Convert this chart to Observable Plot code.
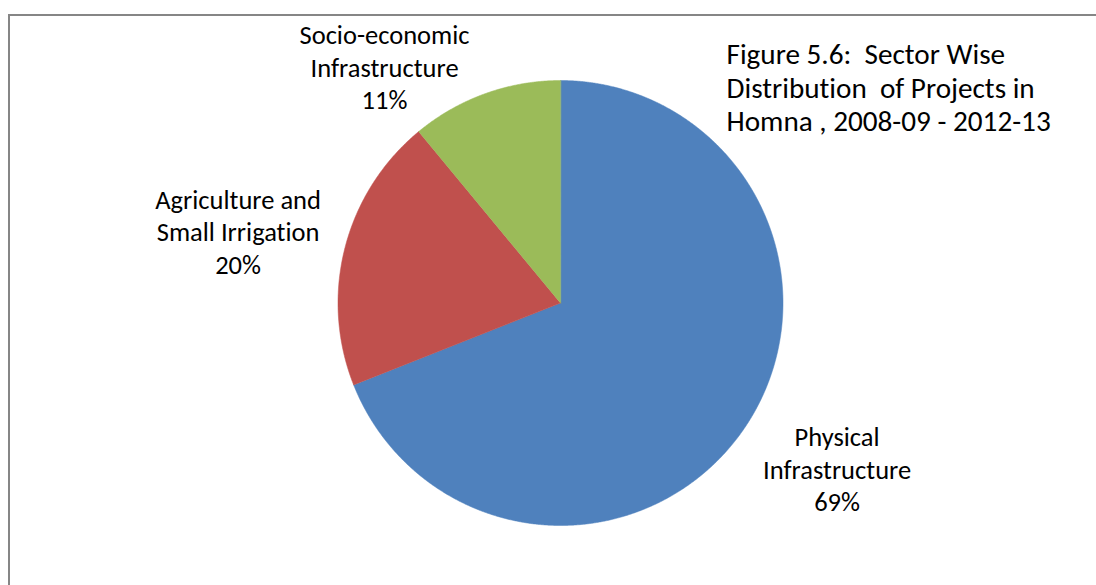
<!DOCTYPE html>
<html><head><meta charset="utf-8">
<script src="https://cdn.jsdelivr.net/npm/d3@7"></script>
<script src="https://cdn.jsdelivr.net/npm/@observablehq/plot@0.6"></script>
<style>
html,body{margin:0;padding:0;background:#fff;}
#wrap{position:relative;width:1096px;height:585px;overflow:hidden;}
#border{position:absolute;left:8px;top:14px;width:1200px;height:700px;border:2px solid #868686;box-sizing:border-box;}
#wrap svg{position:absolute;left:0;top:0;overflow:visible;}
#wrap svg text{font-variant-ligatures:none;font-feature-settings:"liga" 0;}
</style></head><body><div id="wrap"><div id="border"></div></div>
<script>
// Data
const sectors = ["Physical Infrastructure", "Agriculture and Small Irrigation", "Socio-economic Infrastructure"];
const shares = [69, 20, 11];
const colors = ["#4F81BD", "#C0504D", "#9BBB59"];
const labelLines = [["Physical", "Infrastructure"], ["Agriculture and", "Small Irrigation"], ["Socio-economic", "Infrastructure"]];
const titleLines = ["Figure 5.6:  Sector Wise", "Distribution  of Projects in", "Homna , 2008-09 - 2012-13"];
// Annotation anchors (in pie-radius units; last-line baselines)
const labelAnchorX = [1.243, -1.449, -0.791];
const labelAnchorY = [-0.936, 0.130, 0.870];
const titleAnchor = {x: 0.746, y: 0.771};

// Build slice polygons from the data
const arcs = d3.pie().sort(null).value(d => d)(shares);
const pts = [];
arcs.forEach((a, i) => {
  const s = sectors[i];
  pts.push({sector: s, x: 0, y: 0});
  const n = Math.max(2, Math.ceil((a.endAngle - a.startAngle) / (Math.PI / 720)));
  for (let k = 0; k <= n; k++) {
    const t = a.startAngle + (a.endAngle - a.startAngle) * k / n;
    pts.push({sector: s, x: Math.sin(t), y: Math.cos(t)});
  }
});
const labels = sectors.map((s, i) => ({
  x: labelAnchorX[i], y: labelAnchorY[i],
  text: labelLines[i].join("\n") + "\n" + shares[i] + "%"
}));

const cx = 560, cy = 302.5, r = 222.5, W = 1096, H = 585;
const chart = Plot.plot({
  width: W, height: H,
  marginLeft: cx - r, marginRight: W - (cx + r),
  marginTop: cy - r, marginBottom: H - (cy + r),
  x: {domain: [-1, 1], axis: null},
  y: {domain: [-1, 1], axis: null},
  color: {domain: sectors, range: colors},
  style: {fontFamily: "Carlito, Calibri, Lato, sans-serif", background: "transparent", overflow: "visible"},
  marks: [
    Plot.line(pts, {x: "x", y: "y", z: "sector", fill: "sector", stroke: "sector", strokeWidth: 0.5, curve: "linear-closed"}),
    Plot.text(labels, {x: "x", y: "y", text: "text", textAnchor: "middle", lineAnchor: "bottom", lineHeight: 1.23, fontSize: 26.5, fill: "#000"}),
    Plot.text([titleLines.join("\n")], {x: () => titleAnchor.x, y: () => titleAnchor.y, text: d => d, textAnchor: "start", lineAnchor: "bottom", lineHeight: 1.16, fontSize: 29.2, fill: "#000"})
  ]
});
document.getElementById("wrap").appendChild(chart);
</script>
</body></html>
